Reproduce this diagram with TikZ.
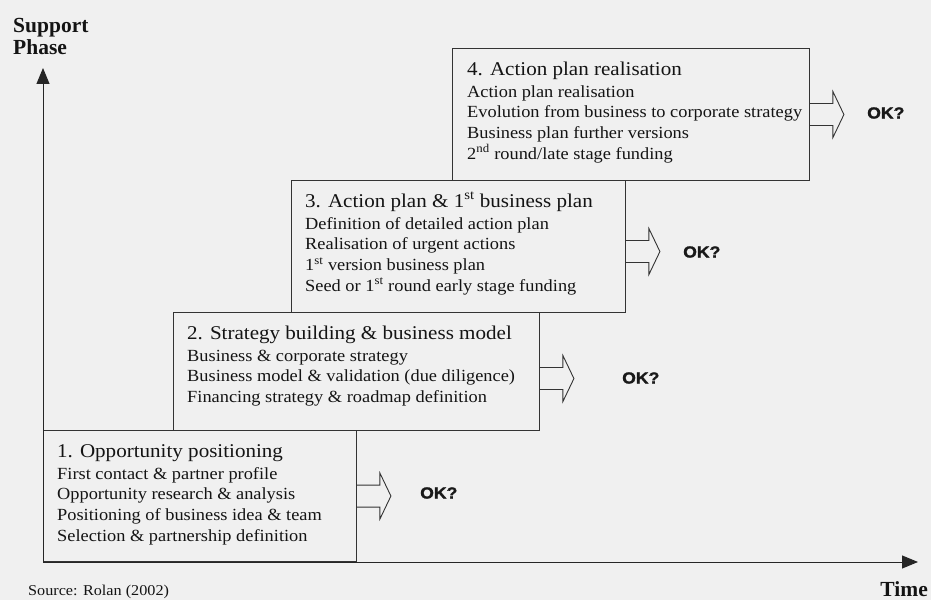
\documentclass[tikz,border=0pt]{standalone}
\usepackage{fontspec}
\setmainfont[FakeStretch=1.08]{Liberation Serif}
\newfontfamily\axfont{Liberation Serif}
\newfontfamily\okfont[FakeStretch=1.1,FakeBold=1.6]{Liberation Sans}
\usetikzlibrary{arrows.meta}
\newcommand\okarrow[2]{%
  \draw[okarr] ([yshift=#2]#1.east) ++(0,11) -- ++(23,0) -- ++(0,12)
    -- ++(11,-23) -- ++(-11,-23) -- ++(0,12) -- ++(-23,0);}
\begin{document}
\begin{tikzpicture}[x=1pt,y=1pt,
  box/.style={draw=black!80, line width=0.9pt, anchor=south west, inner sep=0pt},
  titletext/.style={anchor=base west, inner sep=0pt, text=black!92,
    font=\fontsize{19.5}{22}\selectfont},
  bodytext/.style={anchor=base west, inner sep=0pt, text=black!92,
    font=\fontsize{17}{20.7}\selectfont},
  oktext/.style={anchor=west, inner sep=0pt, text=black!90,
    font=\okfont\bfseries\fontsize{16}{18}\selectfont},
  axlabel/.style={inner sep=0pt, text=black!92,
    font=\axfont\bfseries\fontsize{21.5}{22}\selectfont},
  okarr/.style={draw=black!80, line width=0.9pt, line join=miter},
  axis/.style={draw=black!85, line width=1pt, -{Triangle[length=16pt,width=13pt]}}]
\useasboundingbox (0,0) rectangle (931,600);
\fill[black!6] (0,0) rectangle (931,600);

% axes
\coordinate (O) at (43,38);
\coordinate (ytip) at (43,532);
\coordinate (xtip) at (918,38);

% boxes
\node[box, minimum width=313pt, minimum height=131pt] (b1) at (43,38) {};
\node[box, minimum width=366pt, minimum height=118pt] (b2) at (173,169) {};
\node[box, minimum width=334pt, minimum height=132pt] (b3) at (291,287) {};
\node[box, minimum width=357pt, minimum height=132pt] (b4) at (452,419) {};

\draw[axis] (O) -- (ytip);
\draw[axis] (O) -- (xtip);

% box texts
\node[titletext] (t1) at ([shift={(14,-27)}]b1.north west) {1. Opportunity positioning};
\node[bodytext] (d1) at ([shift={(14,-49)}]b1.north west) {\parbox[t]{300pt}{First contact \& partner profile\\Opportunity research \& analysis\\Positioning of business idea \& team\\Selection \& partnership definition}};

\node[titletext] (t2) at ([shift={(14,-27)}]b2.north west) {2. Strategy building \& business model};
\node[bodytext] (d2) at ([shift={(14,-49)}]b2.north west) {\parbox[t]{350pt}{Business \& corporate strategy\\Business model \& validation (due diligence)\\Financing strategy \& roadmap definition}};

\node[titletext] (t3) at ([shift={(14,-27)}]b3.north west) {3. Action plan \& 1\textsuperscript{st} business plan};
\node[bodytext] (d3) at ([shift={(14,-49)}]b3.north west) {\parbox[t]{320pt}{Definition of detailed action plan\\Realisation of urgent actions\\1\textsuperscript{st} version business plan\\Seed or 1\textsuperscript{st} round early stage funding}};

\node[titletext] (t4) at ([shift={(15,-27)}]b4.north west) {4. Action plan realisation};
\node[bodytext] (d4) at ([shift={(15,-49)}]b4.north west) {\parbox[t]{345pt}{Action plan realisation\\Evolution from business to corporate strategy\\Business plan further versions\\2\textsuperscript{nd} round/late stage funding}};

% OK arrows
\okarrow{b1}{0pt}
\okarrow{b2}{-7pt}
\okarrow{b3}{-5pt}
\okarrow{b4}{0pt}
\node[oktext] (ok1) at (420,107) {OK?};
\node[oktext] (ok2) at (622,222) {OK?};
\node[oktext] (ok3) at (683,348) {OK?};
\node[oktext] (ok4) at (867,487) {OK?};

% axis labels
\node[axlabel, anchor=base west] (yl) at (13,567) {\parbox[t]{100pt}{\fontsize{21.5}{22}\selectfont Support\\Phase}};
\node[axlabel, anchor=base east] (xl) at (928,4) {Time};
\node[bodytext, font=\fontsize{15}{18}\selectfont] (src) at (28,5) {Source: Rolan (2002)};
\end{tikzpicture}
\end{document}
